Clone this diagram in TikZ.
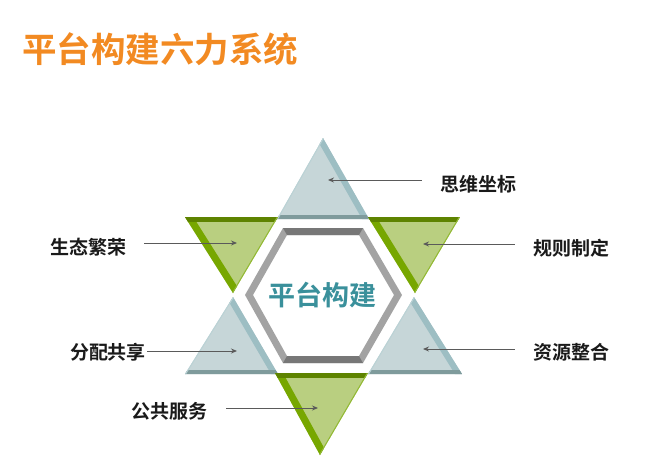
\documentclass[tikz,border=0pt]{standalone}
\usepackage{fontspec}
\setmainfont{Noto Sans CJK SC}[BoldFont=* Bold]
\usetikzlibrary{arrows.meta}

\definecolor{titleorange}{HTML}{F28A22}
\definecolor{hubteal}{HTML}{3A909B}
\definecolor{grayfill}{HTML}{C6D6D8}
\definecolor{grayedge}{HTML}{9DBEC3}
\definecolor{graybase}{HTML}{7F9B9C}
\definecolor{greenfill}{HTML}{B9CF80}
\definecolor{greenedge}{HTML}{77A700}
\definecolor{greentop}{HTML}{5E8300}
\definecolor{hexlight}{HTML}{A3A3A3}
\definecolor{hexdark}{HTML}{777777}
\definecolor{lbltext}{HTML}{1A1A1A}
\definecolor{pointergray}{HTML}{5A5A5A}

% apex, base left, base right
\newcommand{\graytri}[3]{%
  \fill[grayfill] (#1) -- (#2) -- (#3) -- cycle;
  \begin{scope}
    \clip (#1) -- (#2) -- (#3) -- cycle;
    \draw[line width=12pt,grayedge] (#1) -- (#3);
    \draw[line width=9pt,graybase] (#2) -- (#3);
    \draw[line width=2pt,grayedge!70] (#1) -- (#2);
  \end{scope}}
% top left, top right, apex
\newcommand{\greentri}[3]{%
  \fill[greenfill] (#1) -- (#2) -- (#3) -- cycle;
  \begin{scope}
    \clip (#1) -- (#2) -- (#3) -- cycle;
    \draw[line width=14pt,greenedge] (#1) -- (#3);
    \draw[line width=9pt,greentop] (#1) -- (#2);
    \draw[line width=2pt,greenedge!80] (#2) -- (#3);
  \end{scope}}

\begin{document}
\begin{tikzpicture}[x=1pt,y=-1pt,
    lbl/.style={inner sep=0pt,text=lbltext,font=\fontsize{19}{22}\selectfont\bfseries},
    pointer/.style={draw=pointergray,line width=0.9pt,-{Stealth[length=6pt,width=5pt]}}]
  \useasboundingbox (0,0) rectangle (662,475);

  % title
  \node[anchor=west,inner sep=0pt,text=titleorange,font=\fontsize{34.5}{40}\selectfont\bfseries] (title) at (22,49) {平台构建六力系统};

  % gray triangles
  \coordinate (ta) at (323,138); \coordinate (tl) at (277,219); \coordinate (tr) at (369,219);
  \coordinate (la) at (233,297); \coordinate (ll) at (185,374); \coordinate (lr) at (278,374);
  \coordinate (ra) at (414,297); \coordinate (rl) at (368,374); \coordinate (rr) at (462,374);
  \graytri{ta}{tl}{tr}
  \graytri{la}{ll}{lr}
  \graytri{ra}{rl}{rr}

  % green triangles
  \coordinate (gal) at (185,217); \coordinate (gar) at (278,217); \coordinate (gaa) at (233,293);
  \coordinate (gbl) at (368,217); \coordinate (gbr) at (460,217); \coordinate (gba) at (415,293);
  \coordinate (gcl) at (275,373); \coordinate (gcr) at (368,373); \coordinate (gca) at (320,455);
  \greentri{gal}{gar}{gaa}
  \greentri{gbl}{gbr}{gba}
  \greentri{gcl}{gcr}{gca}

  % hexagon frame
  \fill[hexlight,even odd rule] (283,228) -- (363,228) -- (402,295) -- (363,363) -- (283,363) -- (245,295) -- cycle
    (287,235) -- (359,235) -- (394,295) -- (359,356) -- (287,356) -- (253,295) -- cycle;
  \fill[hexdark] (283,228) -- (363,228) -- (359,235) -- (287,235) -- cycle;
  \fill[hexdark] (283,363) -- (363,363) -- (359,356) -- (287,356) -- cycle;

  \node[text=hubteal,font=\fontsize{27}{30}\selectfont\bfseries] (hub) at (322,295) {平台构建};

  % arrow targets
  \coordinate (swin) at (328,180);
  \coordinate (gzin) at (423,244);
  \coordinate (zyin) at (423,349);
  \coordinate (stin) at (237,243);
  \coordinate (fpin) at (237,351);
  \coordinate (ggin) at (318,408);

  % labels
  \node[lbl] (swzb) at (478,184) {思维坐标};
  \node[lbl] (gzzd) at (571,248) {规则制定};
  \node[lbl] (zyzh) at (571,352) {资源整合};
  \node[lbl] (stfr) at (88,247) {生态繁荣};
  \node[lbl] (fpgx) at (108,352) {分配共享};
  \node[lbl] (ggfw) at (169,411) {公共服务};

  \draw[pointer] ([xshift=-18pt]swzb.west |- swin) -- (swin);
  \draw[pointer] ([xshift=-18pt]gzzd.west |- gzin) -- (gzin);
  \draw[pointer] ([xshift=-18pt]zyzh.west |- zyin) -- (zyin);
  \draw[pointer] ([xshift=18pt]stfr.east |- stin) -- (stin);
  \draw[pointer] ([xshift=1pt]fpgx.east |- fpin) -- (fpin);
  \draw[pointer] ([xshift=19pt]ggfw.east |- ggin) -- (ggin);
\end{tikzpicture}
\end{document}
